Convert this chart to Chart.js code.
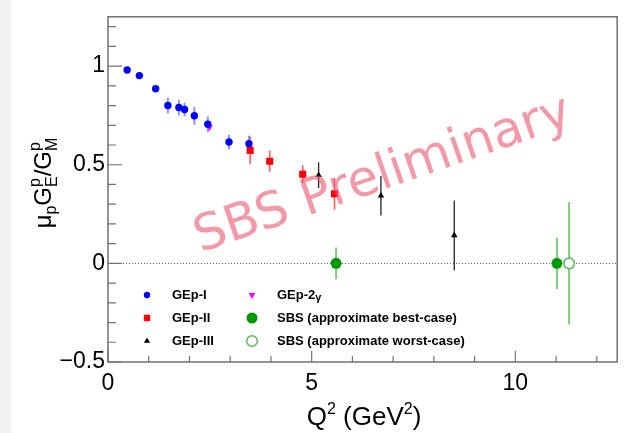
<!DOCTYPE html>
<html lang="en">
<head>
<meta charset="UTF-8">
<title>GEp / GMp ratio</title>
<script src="https://cdn.jsdelivr.net/npm/chart.js"></script>
<style>
  html, body { margin: 0; padding: 0; background: #fff; }
  canvas { display: block; }
</style>
</head>
<body>
<canvas id="gepChart" width="624" height="433"></canvas>
<script>
// values (Q2 in GeV2, ratio, error)
const gep1Q2 = [0.47, 0.77, 1.17, 1.47, 1.74, 1.88, 2.12, 2.45, 2.97, 3.46];
const gep1Ratio = [0.98, 0.952, 0.885, 0.80, 0.79, 0.78, 0.748, 0.705, 0.615, 0.607];
const gep1Err = [0.012, 0.012, 0.015, 0.04, 0.04, 0.035, 0.045, 0.04, 0.037, 0.04];

const gep2gQ2 = [2.49];
const gep2gRatio = [0.69];
const gep2gErr = [0.01];

const gep2Q2 = [3.49, 3.97, 4.78, 5.56];
const gep2Ratio = [0.573, 0.518, 0.452, 0.353];
const gep2Err = [0.07, 0.054, 0.045, 0.08];

const gep3Q2 = [5.17, 6.70, 8.50];
const gep3Ratio = [0.447, 0.343, 0.142];
const gep3Err = [0.065, 0.1, 0.177];

const sbsBestQ2 = [5.60, 11.02];
const sbsBestRatio = [0, 0];
const sbsBestErr = [0.08, 0.13];

const sbsWorstQ2 = [11.32];
const sbsWorstRatio = [0];
const sbsWorstErr = [0.31];

const xTickValues = [0, 5, 10];
const yTickValues = [-0.5, 0, 0.5, 1];

function pts(xs, ys) {
    return xs.map((x, i) => ({ x: x, y: ys[i] }));
}

const FRAME = '#707070';

// background with the light strip on the left
const background = {
    id: 'background',
    beforeDraw(chart) {
        const ctx = chart.ctx;
        ctx.save();
        ctx.fillStyle = '#fff';
        ctx.fillRect(0, 0, chart.width, chart.height);
        ctx.fillStyle = '#f1f2f4';
        ctx.fillRect(0, 0, 11, chart.height);
        ctx.restore();
    }
};

// dotted zero line + vertical error bars
const errorBars = {
    id: 'errorBars',
    beforeDatasetsDraw(chart) {
        const { ctx, chartArea, scales: { x, y } } = chart;
        ctx.save();
        ctx.strokeStyle = '#666';
        ctx.lineWidth = 1;
        ctx.setLineDash([1, 2]);
        ctx.beginPath();
        ctx.moveTo(chartArea.left, Math.round(y.getPixelForValue(0)) + 0.5);
        ctx.lineTo(chartArea.right, Math.round(y.getPixelForValue(0)) + 0.5);
        ctx.stroke();
        ctx.setLineDash([]);

        chart.data.datasets.forEach(ds => {
            if (!ds.errors) return;
            ctx.strokeStyle = ds.errorColor;
            ctx.lineWidth = ds.errorWidth;
            ds.data.forEach((p, i) => {
                const px = x.getPixelForValue(p.x);
                ctx.beginPath();
                ctx.moveTo(px, y.getPixelForValue(p.y - ds.errors[i]));
                ctx.lineTo(px, y.getPixelForValue(p.y + ds.errors[i]));
                ctx.stroke();
            });
        });
        ctx.restore();
    }
};

// ROOT style frame with inward ticks
const frame = {
    id: 'frame',
    afterDatasetsDraw(chart) {
        const { ctx, chartArea: a, scales: { x, y } } = chart;
        ctx.save();
        ctx.strokeStyle = FRAME;
        ctx.lineWidth = 1.5;
        ctx.strokeRect(a.left, a.top, a.right - a.left, a.bottom - a.top);
        ctx.lineWidth = 1.2;
        ctx.beginPath();
        for (let v = 0; v <= 12; v++) {
            const px = x.getPixelForValue(v);
            const len = v % 5 === 0 ? 11 : 6;
            ctx.moveTo(px, a.bottom);
            ctx.lineTo(px, a.bottom - len);
        }
        for (let k = -5; k <= 12; k++) {
            const py = y.getPixelForValue(k / 10);
            const len = k % 5 === 0 ? 14 : 8;
            ctx.moveTo(a.left, py);
            ctx.lineTo(a.left + len, py);
        }
        ctx.stroke();
        ctx.restore();
    }
};

function richText(ctx, parts, cx, baseY, family) {
    // measure
    let total = 0;
    parts.forEach(p => {
        ctx.font = p.s + 'px ' + family;
        const txts = p.stack ? p.stack : [p];
        p.w = Math.max(...txts.map(t => ctx.measureText(t.t).width));
        total += p.w;
    });
    let cur = cx - total / 2;
    parts.forEach(p => {
        ctx.font = p.s + 'px ' + family;
        const txts = p.stack ? p.stack : [p];
        txts.forEach(t => ctx.fillText(t.t, cur, baseY + (t.dy || 0)));
        cur += p.w;
    });
}

const titles = {
    id: 'titles',
    afterDraw(chart) {
        const ctx = chart.ctx;
        const fam = '"Liberation Sans", Arial, sans-serif';
        ctx.save();
        ctx.fillStyle = '#000';
        ctx.textAlign = 'left';
        ctx.textBaseline = 'alphabetic';
        richText(ctx, [
            { t: 'Q', s: 26 }, { t: '2', s: 16, dy: -11 },
            { t: ' (GeV', s: 26 }, { t: '2', s: 16, dy: -11 }, { t: ')', s: 26 }
        ], 364, 425, fam);

        ctx.translate(51, 183);
        ctx.rotate(-Math.PI / 2);
        richText(ctx, [
            { t: 'μ', s: 24 }, { t: 'p', s: 16, dy: 5 },
            { t: 'G', s: 24 }, { s: 16, stack: [{ t: 'p', dy: -11 }, { t: 'E', dy: 6 }] },
            { t: '/', s: 24 },
            { t: 'G', s: 24 }, { s: 16, stack: [{ t: 'p', dy: -11 }, { t: 'M', dy: 6 }] }
        ], 0, 0, fam);
        ctx.restore();
    }
};

// two-column legend inside the frame
const legendBox = {
    id: 'legendBox',
    afterDraw(chart) {
        const ctx = chart.ctx;
        const ds = chart.data.datasets;
        const cols = [
            { mx: 147, tx: 172, items: [0, 2, 3] },
            { mx: 252, tx: 277, items: [1, 4, 5] }
        ];
        const rows = [295, 318, 341];
        ctx.save();
        ctx.textBaseline = 'middle';
        ctx.textAlign = 'left';
        ctx.fillStyle = '#000';
        cols.forEach(c => {
            c.items.forEach((idx, r) => {
                const d = ds[idx];
                ctx.fillStyle = d.backgroundColor;
                ctx.strokeStyle = d.borderColor;
                ctx.lineWidth = d.borderWidth;
                Chart.helpers.drawPoint(ctx, {
                    pointStyle: d.pointStyle,
                    radius: d.legendRadius,
                    rotation: d.rotation || 0,
                    borderWidth: d.borderWidth
                }, c.mx, rows[r]);
                ctx.fillStyle = '#000';
                ctx.font = 'bold 13px "Liberation Sans", Arial, sans-serif';
                if (d.label === 'GEp-2γ') {
                    ctx.fillText('GEp-2', c.tx, rows[r]);
                    const w = ctx.measureText('GEp-2').width;
                    ctx.font = 'bold 11px "Liberation Sans", Arial, sans-serif';
                    ctx.fillText('γ', c.tx + w, rows[r] + 3);
                } else {
                    ctx.fillText(d.label, c.tx, rows[r]);
                }
            });
        });
        ctx.restore();
    }
};

const watermark = {
    id: 'watermark',
    afterDraw(chart) {
        const ctx = chart.ctx;
        ctx.save();
        ctx.translate(383, 176);
        ctx.rotate(-19 * Math.PI / 180);
        ctx.font = '50px "DejaVu Sans", sans-serif';
        ctx.fillStyle = 'rgba(236, 84, 108, 0.6)';
        ctx.textAlign = 'center';
        ctx.textBaseline = 'middle';
        ctx.fillText('SBS Preliminary', 0, 0);
        ctx.restore();
    }
};

const tickFont = { family: '"Liberation Sans", Arial, sans-serif', size: 23 };

new Chart(document.getElementById('gepChart'), {
    type: 'scatter',
    data: {
        datasets: [
            {
                label: 'GEp-I', data: pts(gep1Q2, gep1Ratio), errors: gep1Err,
                pointStyle: 'circle', radius: 3.7, legendRadius: 3.2,
                backgroundColor: '#0000ff', borderColor: '#0000ff', borderWidth: 0,
                errorColor: 'rgba(70, 70, 255, 0.6)', errorWidth: 2
            },
            {
                label: 'GEp-2γ', data: pts(gep2gQ2, gep2gRatio), errors: gep2gErr,
                pointStyle: 'triangle', rotation: 180, radius: 4, legendRadius: 4,
                backgroundColor: '#ff00ff', borderColor: '#ff00ff', borderWidth: 0,
                errorColor: '#ff66ff', errorWidth: 1.5
            },
            {
                label: 'GEp-II', data: pts(gep2Q2, gep2Ratio), errors: gep2Err,
                pointStyle: 'rect', radius: 5, legendRadius: 4.5,
                backgroundColor: '#ff0000', borderColor: '#ff0000', borderWidth: 0,
                errorColor: '#ff5a5a', errorWidth: 1.6
            },
            {
                label: 'GEp-III', data: pts(gep3Q2, gep3Ratio), errors: gep3Err,
                pointStyle: 'triangle', radius: 3.8, legendRadius: 3.6,
                backgroundColor: '#000', borderColor: '#000', borderWidth: 0,
                errorColor: '#222', errorWidth: 1.3
            },
            {
                label: 'SBS (approximate best-case)', data: pts(sbsBestQ2, sbsBestRatio), errors: sbsBestErr,
                pointStyle: 'circle', radius: 5.5, legendRadius: 5.5,
                backgroundColor: '#009900', borderColor: '#009900', borderWidth: 0,
                errorColor: '#7acb7a', errorWidth: 2
            },
            {
                label: 'SBS (approximate worst-case)', data: pts(sbsWorstQ2, sbsWorstRatio), errors: sbsWorstErr,
                pointStyle: 'circle', radius: 5.3, legendRadius: 5.3,
                backgroundColor: '#ffffff', borderColor: '#55bb55', borderWidth: 1.5,
                errorColor: '#7acb7a', errorWidth: 2
            }
        ]
    },
    options: {
        responsive: false,
        animation: false,
        events: [],
        layout: { padding: { top: 9, right: 4, left: 0, bottom: 0 } },
        plugins: { legend: { display: false }, tooltip: { enabled: false } },
        scales: {
            x: {
                type: 'linear', min: 0, max: 12.5,
                afterBuildTicks: s => { s.ticks = xTickValues.map(v => ({ value: v })); },
                afterFit: s => { s.height = 71; },
                grid: { display: false, drawTicks: false },
                border: { display: false },
                ticks: { padding: 8, color: '#000', font: tickFont, maxRotation: 0, autoSkip: false }
            },
            y: {
                type: 'linear', min: -0.5, max: 1.25,
                afterBuildTicks: s => { s.ticks = yTickValues.map(v => ({ value: v })); },
                afterFit: s => { s.width = 108; },
                grid: { display: false, drawTicks: false },
                border: { display: false },
                ticks: {
                    padding: 3, color: '#000', font: tickFont, autoSkip: false,
                    callback: v => v < 0 ? '\u2212' + Math.abs(v) : String(v)
                }
            }
        }
    },
    plugins: [background, errorBars, frame, titles, legendBox, watermark]
});
</script>
</body>
</html>
